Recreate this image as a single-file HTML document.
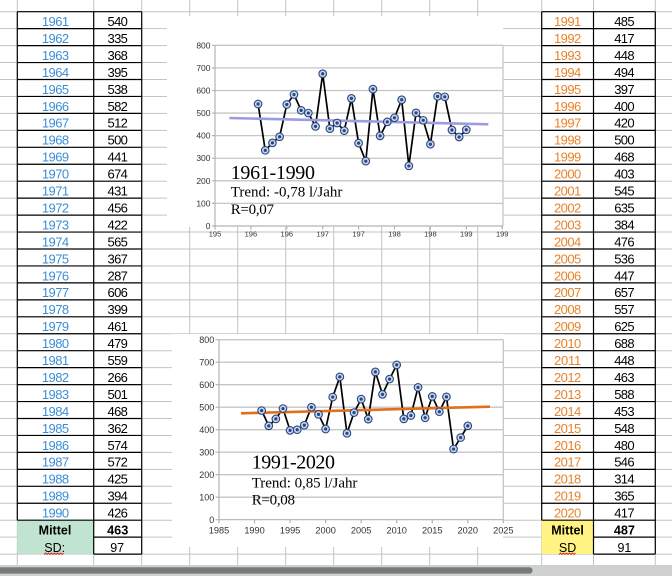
<!DOCTYPE html>
<html><head><meta charset="utf-8"><style>
html,body{margin:0;padding:0;background:#fff;width:672px;height:576px;overflow:hidden}
svg{display:block}
</style></head><body>
<svg width="672" height="576" viewBox="0 0 672 576" xmlns="http://www.w3.org/2000/svg">
<defs>
<g id="m"><circle r="3.8" fill="#c9d3ec" stroke="#27467f" stroke-width="1.1"/><circle r="1.6" fill="#27467f"/></g>
</defs>
<rect width="672" height="576" fill="#fff"/>
<!-- spreadsheet gray grid -->
<g stroke="#c3c3c3" stroke-width="1" fill="none">
<path d="M17.3 0V565M93.7 0V565M141.7 0V565M189.7 0V565M237.7 0V565M285.7 0V565M333.7 0V565M381.7 0V565M429.7 0V565M477.7 0V565M541.7 0V565M593.5 0V565M655.3 0V565"/>
<path d="M0 11.7H672M0 28.65H672M0 45.6H672M0 62.55H672M0 79.5H672M0 96.45H672M0 113.4H672M0 130.35H672M0 147.3H672M0 164.25H672M0 181.2H672M0 198.15H672M0 215.1H672M0 232.05H672M0 249H672M0 265.95H672M0 282.9H672M0 299.85H672M0 316.8H672M0 333.75H672M0 350.7H672M0 367.65H672M0 384.6H672M0 401.55H672M0 418.5H672M0 435.45H672M0 452.4H672M0 469.35H672M0 486.3H672M0 503.25H672M0 520.2H672M0 537.15H672M0 554.1H672"/>
</g>
<!-- colored cells -->
<rect x="17.3" y="520.2" width="76.4" height="33.9" fill="#c1e4d2"/>
<rect x="541.7" y="520.2" width="51.8" height="33.9" fill="#fff383"/>
<!-- black table borders -->
<g stroke="#000" stroke-width="1.2" fill="none">
<path d="M17.3 11.7H141.7M17.3 28.65H141.7M17.3 45.6H141.7M17.3 62.55H141.7M17.3 79.5H141.7M17.3 96.45H141.7M17.3 113.4H141.7M17.3 130.35H141.7M17.3 147.3H141.7M17.3 164.25H141.7M17.3 181.2H141.7M17.3 198.15H141.7M17.3 215.1H141.7M17.3 232.05H141.7M17.3 249H141.7M17.3 265.95H141.7M17.3 282.9H141.7M17.3 299.85H141.7M17.3 316.8H141.7M17.3 333.75H141.7M17.3 350.7H141.7M17.3 367.65H141.7M17.3 384.6H141.7M17.3 401.55H141.7M17.3 418.5H141.7M17.3 435.45H141.7M17.3 452.4H141.7M17.3 469.35H141.7M17.3 486.3H141.7M17.3 503.25H141.7M17.3 520.2H141.7M93.7 537.15H141.7M93.7 554.1H141.7M17.3 11.7V520.2M93.7 11.7V554.1M141.7 11.7V554.1"/>
<path d="M541.7 11.7H655.3M541.7 28.65H655.3M541.7 45.6H655.3M541.7 62.55H655.3M541.7 79.5H655.3M541.7 96.45H655.3M541.7 113.4H655.3M541.7 130.35H655.3M541.7 147.3H655.3M541.7 164.25H655.3M541.7 181.2H655.3M541.7 198.15H655.3M541.7 215.1H655.3M541.7 232.05H655.3M541.7 249H655.3M541.7 265.95H655.3M541.7 282.9H655.3M541.7 299.85H655.3M541.7 316.8H655.3M541.7 333.75H655.3M541.7 350.7H655.3M541.7 367.65H655.3M541.7 384.6H655.3M541.7 401.55H655.3M541.7 418.5H655.3M541.7 435.45H655.3M541.7 452.4H655.3M541.7 469.35H655.3M541.7 486.3H655.3M541.7 503.25H655.3M541.7 520.2H655.3M593.5 537.15H655.3M593.5 554.1H655.3M541.7 11.7V520.2M593.5 11.7V554.1M655.3 11.7V554.1"/>
</g>
<!-- left table text -->
<g font-family="Liberation Sans, sans-serif" font-size="13" text-anchor="middle">
<g fill="#3b8ed6">
<text x="55.5" y="26" textLength="27.3">1961</text><text x="55.5" y="42.95" textLength="27.3">1962</text><text x="55.5" y="59.9" textLength="27.3">1963</text><text x="55.5" y="76.85" textLength="27.3">1964</text><text x="55.5" y="93.8" textLength="27.3">1965</text><text x="55.5" y="110.75" textLength="27.3">1966</text><text x="55.5" y="127.7" textLength="27.3">1967</text><text x="55.5" y="144.65" textLength="27.3">1968</text><text x="55.5" y="161.6" textLength="27.3">1969</text><text x="55.5" y="178.55" textLength="27.3">1970</text><text x="55.5" y="195.5" textLength="27.3">1971</text><text x="55.5" y="212.45" textLength="27.3">1972</text><text x="55.5" y="229.4" textLength="27.3">1973</text><text x="55.5" y="246.35" textLength="27.3">1974</text><text x="55.5" y="263.3" textLength="27.3">1975</text><text x="55.5" y="280.25" textLength="27.3">1976</text><text x="55.5" y="297.2" textLength="27.3">1977</text><text x="55.5" y="314.15" textLength="27.3">1978</text><text x="55.5" y="331.1" textLength="27.3">1979</text><text x="55.5" y="348.05" textLength="27.3">1980</text><text x="55.5" y="365" textLength="27.3">1981</text><text x="55.5" y="381.95" textLength="27.3">1982</text><text x="55.5" y="398.9" textLength="27.3">1983</text><text x="55.5" y="415.85" textLength="27.3">1984</text><text x="55.5" y="432.8" textLength="27.3">1985</text><text x="55.5" y="449.75" textLength="27.3">1986</text><text x="55.5" y="466.7" textLength="27.3">1987</text><text x="55.5" y="483.65" textLength="27.3">1988</text><text x="55.5" y="500.6" textLength="27.3">1989</text><text x="55.5" y="517.55" textLength="27.3">1990</text>
</g>
<g fill="#000">
<text x="117.7" y="26" textLength="20.3">540</text><text x="117.7" y="42.95" textLength="20.3">335</text><text x="117.7" y="59.9" textLength="20.3">368</text><text x="117.7" y="76.85" textLength="20.3">395</text><text x="117.7" y="93.8" textLength="20.3">538</text><text x="117.7" y="110.75" textLength="20.3">582</text><text x="117.7" y="127.7" textLength="20.3">512</text><text x="117.7" y="144.65" textLength="20.3">500</text><text x="117.7" y="161.6" textLength="20.3">441</text><text x="117.7" y="178.55" textLength="20.3">674</text><text x="117.7" y="195.5" textLength="20.3">431</text><text x="117.7" y="212.45" textLength="20.3">456</text><text x="117.7" y="229.4" textLength="20.3">422</text><text x="117.7" y="246.35" textLength="20.3">565</text><text x="117.7" y="263.3" textLength="20.3">367</text><text x="117.7" y="280.25" textLength="20.3">287</text><text x="117.7" y="297.2" textLength="20.3">606</text><text x="117.7" y="314.15" textLength="20.3">399</text><text x="117.7" y="331.1" textLength="20.3">461</text><text x="117.7" y="348.05" textLength="20.3">479</text><text x="117.7" y="365" textLength="20.3">559</text><text x="117.7" y="381.95" textLength="20.3">266</text><text x="117.7" y="398.9" textLength="20.3">501</text><text x="117.7" y="415.85" textLength="20.3">468</text><text x="117.7" y="432.8" textLength="20.3">362</text><text x="117.7" y="449.75" textLength="20.3">574</text><text x="117.7" y="466.7" textLength="20.3">572</text><text x="117.7" y="483.65" textLength="20.3">425</text><text x="117.7" y="500.6" textLength="20.3">394</text><text x="117.7" y="517.55" textLength="20.3">426</text>
<text x="55" y="534.5" font-weight="bold" font-size="12.5">Mittel</text>
<text x="117.7" y="534.5" font-weight="bold" font-size="12.7">463</text>
<text x="54.7" y="552" font-size="12.5">SD:</text>
<text x="117.2" y="552" font-size="12.5">97</text>
</g>
</g>
<!-- right table text -->
<g font-family="Liberation Sans, sans-serif" font-size="13" text-anchor="middle">
<g fill="#e8832a">
<text x="567.6" y="26" textLength="27.3">1991</text><text x="567.6" y="42.95" textLength="27.3">1992</text><text x="567.6" y="59.9" textLength="27.3">1993</text><text x="567.6" y="76.85" textLength="27.3">1994</text><text x="567.6" y="93.8" textLength="27.3">1995</text><text x="567.6" y="110.75" textLength="27.3">1996</text><text x="567.6" y="127.7" textLength="27.3">1997</text><text x="567.6" y="144.65" textLength="27.3">1998</text><text x="567.6" y="161.6" textLength="27.3">1999</text><text x="567.6" y="178.55" textLength="27.3">2000</text><text x="567.6" y="195.5" textLength="27.3">2001</text><text x="567.6" y="212.45" textLength="27.3">2002</text><text x="567.6" y="229.4" textLength="27.3">2003</text><text x="567.6" y="246.35" textLength="27.3">2004</text><text x="567.6" y="263.3" textLength="27.3">2005</text><text x="567.6" y="280.25" textLength="27.3">2006</text><text x="567.6" y="297.2" textLength="27.3">2007</text><text x="567.6" y="314.15" textLength="27.3">2008</text><text x="567.6" y="331.1" textLength="27.3">2009</text><text x="567.6" y="348.05" textLength="27.3">2010</text><text x="567.6" y="365" textLength="27.3">2011</text><text x="567.6" y="381.95" textLength="27.3">2012</text><text x="567.6" y="398.9" textLength="27.3">2013</text><text x="567.6" y="415.85" textLength="27.3">2014</text><text x="567.6" y="432.8" textLength="27.3">2015</text><text x="567.6" y="449.75" textLength="27.3">2016</text><text x="567.6" y="466.7" textLength="27.3">2017</text><text x="567.6" y="483.65" textLength="27.3">2018</text><text x="567.6" y="500.6" textLength="27.3">2019</text><text x="567.6" y="517.55" textLength="27.3">2020</text>
</g>
<g fill="#000">
<text x="624.4" y="26" textLength="20.3">485</text><text x="624.4" y="42.95" textLength="20.3">417</text><text x="624.4" y="59.9" textLength="20.3">448</text><text x="624.4" y="76.85" textLength="20.3">494</text><text x="624.4" y="93.8" textLength="20.3">397</text><text x="624.4" y="110.75" textLength="20.3">400</text><text x="624.4" y="127.7" textLength="20.3">420</text><text x="624.4" y="144.65" textLength="20.3">500</text><text x="624.4" y="161.6" textLength="20.3">468</text><text x="624.4" y="178.55" textLength="20.3">403</text><text x="624.4" y="195.5" textLength="20.3">545</text><text x="624.4" y="212.45" textLength="20.3">635</text><text x="624.4" y="229.4" textLength="20.3">384</text><text x="624.4" y="246.35" textLength="20.3">476</text><text x="624.4" y="263.3" textLength="20.3">536</text><text x="624.4" y="280.25" textLength="20.3">447</text><text x="624.4" y="297.2" textLength="20.3">657</text><text x="624.4" y="314.15" textLength="20.3">557</text><text x="624.4" y="331.1" textLength="20.3">625</text><text x="624.4" y="348.05" textLength="20.3">688</text><text x="624.4" y="365" textLength="20.3">448</text><text x="624.4" y="381.95" textLength="20.3">463</text><text x="624.4" y="398.9" textLength="20.3">588</text><text x="624.4" y="415.85" textLength="20.3">453</text><text x="624.4" y="432.8" textLength="20.3">548</text><text x="624.4" y="449.75" textLength="20.3">480</text><text x="624.4" y="466.7" textLength="20.3">546</text><text x="624.4" y="483.65" textLength="20.3">314</text><text x="624.4" y="500.6" textLength="20.3">365</text><text x="624.4" y="517.55" textLength="20.3">417</text>
<text x="567.6" y="534.5" font-weight="bold" font-size="12.5">Mittel</text>
<text x="624.4" y="534.5" font-weight="bold" font-size="12.7">487</text>
<text x="567.6" y="552" font-size="12.5">SD</text>
<text x="624.4" y="552" font-size="12.5">91</text>
</g>
</g>
<!-- spellcheck squiggles -->
<path d="M44 554.5l1.5-1.5 1.5 1.5 1.5-1.5 1.5 1.5 1.5-1.5 1.5 1.5 1.5-1.5 1.5 1.5 1.5-1.5 1.5 1.5 1.5-1.5 1.5 1.5 1.5-1.5" stroke="#e02020" stroke-width="0.9" fill="none"/>
<path d="M559 554.5l1.5-1.5 1.5 1.5 1.5-1.5 1.5 1.5 1.5-1.5 1.5 1.5 1.5-1.5 1.5 1.5 1.5-1.5 1.5 1.5 1.5-1.5" stroke="#e02020" stroke-width="0.9" fill="none"/>

<!-- ============ CHART 1 ============ -->
<rect x="167" y="16" width="336" height="211" fill="#fff"/>
<g stroke="#c6c6c6" stroke-width="1.3" fill="none">
<path d="M215 45.3H503M215 67.89H503M215 90.48H503M215 113.07H503M215 135.65H503M215 158.24H503M215 180.83H503M215 203.41H503M503 45.3V226"/>
</g>
<g stroke="#b3b3b3" stroke-width="1.2" fill="none">
<path d="M215 45.3V226M215 226H503M212 45.3H215M212 67.89H215M212 90.48H215M212 113.07H215M212 135.65H215M212 158.24H215M212 180.83H215M212 203.41H215M212 226H215"/>
<path d="M215 226V229.5M250.9 226V229.5M286.8 226V229.5M322.7 226V229.5M358.6 226V229.5M394.5 226V229.5M430.4 226V229.5M466.3 226V229.5M502.2 226V229.5"/>
</g>
<g font-family="Liberation Sans, sans-serif" font-size="8.5" fill="#333" text-anchor="end">
<text x="210.5" y="48.3">800</text><text x="210.5" y="70.9">700</text><text x="210.5" y="93.5">600</text><text x="210.5" y="116.1">500</text><text x="210.5" y="138.6">400</text><text x="210.5" y="161.2">300</text><text x="210.5" y="183.8">200</text><text x="210.5" y="206.4">100</text><text x="210.5" y="229">0</text>
</g>
<g font-family="Liberation Sans, sans-serif" font-size="7.5" fill="#333" text-anchor="middle">
<text x="215" y="236.5">195</text><text x="250.9" y="236.5">196</text><text x="286.8" y="236.5">196</text><text x="322.7" y="236.5">197</text><text x="358.6" y="236.5">197</text><text x="394.5" y="236.5">198</text><text x="430.4" y="236.5">198</text><text x="466.3" y="236.5">199</text><text x="502.2" y="236.5">199</text>
</g>
<polyline fill="none" stroke="#000" stroke-width="1.7" stroke-linejoin="miter" points="258.08,104.03 265.26,150.33 272.44,142.88 279.62,136.78 286.8,104.48 293.98,94.54 301.16,110.35 308.34,113.06 315.52,126.39 322.7,73.76 329.88,128.65 337.06,123 344.24,130.68 351.42,98.38 358.6,143.11 365.78,161.18 372.96,89.12 380.14,135.88 387.32,121.87 394.5,117.81 401.68,99.74 408.86,165.92 416.04,112.84 423.22,120.29 430.4,144.23 437.58,96.35 444.76,96.8 451.94,130 459.12,137.01 466.3,129.78"/>
<line x1="229.3" y1="118" x2="488.3" y2="124.3" stroke="#9c9ce0" stroke-width="2.6"/>
<g>
<use href="#m" x="258.08" y="104.03"/><use href="#m" x="265.26" y="150.33"/><use href="#m" x="272.44" y="142.88"/><use href="#m" x="279.62" y="136.78"/><use href="#m" x="286.8" y="104.48"/><use href="#m" x="293.98" y="94.54"/><use href="#m" x="301.16" y="110.35"/><use href="#m" x="308.34" y="113.06"/><use href="#m" x="315.52" y="126.39"/><use href="#m" x="322.7" y="73.76"/><use href="#m" x="329.88" y="128.65"/><use href="#m" x="337.06" y="123"/><use href="#m" x="344.24" y="130.68"/><use href="#m" x="351.42" y="98.38"/><use href="#m" x="358.6" y="143.11"/><use href="#m" x="365.78" y="161.18"/><use href="#m" x="372.96" y="89.12"/><use href="#m" x="380.14" y="135.88"/><use href="#m" x="387.32" y="121.87"/><use href="#m" x="394.5" y="117.81"/><use href="#m" x="401.68" y="99.74"/><use href="#m" x="408.86" y="165.92"/><use href="#m" x="416.04" y="112.84"/><use href="#m" x="423.22" y="120.29"/><use href="#m" x="430.4" y="144.23"/><use href="#m" x="437.58" y="96.35"/><use href="#m" x="444.76" y="96.8"/><use href="#m" x="451.94" y="130"/><use href="#m" x="459.12" y="137.01"/><use href="#m" x="466.3" y="129.78"/>
</g>
<g font-family="Liberation Serif, serif" fill="#000">
<text x="230.7" y="179" font-size="20" textLength="84.3">1961-1990</text>
<text x="230.7" y="196.7" font-size="15" textLength="111.7">Trend: -0,78 l/Jahr</text>
<text x="230.7" y="214" font-size="15" textLength="43.3">R=0,07</text>
</g>

<!-- ============ CHART 2 ============ -->
<rect x="172" y="334" width="331" height="213" fill="#fff"/>
<g stroke="#c6c6c6" stroke-width="1.3" fill="none">
<path d="M219 339.7H503.3M219 362.2H503.3M219 384.7H503.3M219 407.2H503.3M219 429.7H503.3M219 452.2H503.3M219 474.7H503.3M219 497.2H503.3M503.3 339.7V519.7"/>
</g>
<g stroke="#b3b3b3" stroke-width="1.2" fill="none">
<path d="M219 339.7V519.7M219 519.7H503.3M215.5 339.7H219M215.5 362.2H219M215.5 384.7H219M215.5 407.2H219M215.5 429.7H219M215.5 452.2H219M215.5 474.7H219M215.5 497.2H219M215.5 519.7H219"/>
<path d="M219 519.7V523.2M254.54 519.7V523.2M290.08 519.7V523.2M325.62 519.7V523.2M361.16 519.7V523.2M396.7 519.7V523.2M432.24 519.7V523.2M467.78 519.7V523.2M503.32 519.7V523.2"/>
</g>
<g font-family="Liberation Sans, sans-serif" font-size="9" fill="#333" text-anchor="end">
<text x="214.3" y="342.9">800</text><text x="214.3" y="365.4">700</text><text x="214.3" y="387.9">600</text><text x="214.3" y="410.4">500</text><text x="214.3" y="432.9">400</text><text x="214.3" y="455.4">300</text><text x="214.3" y="477.9">200</text><text x="214.3" y="500.4">100</text><text x="214.3" y="522.9">0</text>
</g>
<g font-family="Liberation Sans, sans-serif" font-size="9.2" fill="#333" text-anchor="middle">
<text x="219" y="533.3">1985</text><text x="254.54" y="533.3">1990</text><text x="290.08" y="533.3">1995</text><text x="325.62" y="533.3">2000</text><text x="361.16" y="533.3">2005</text><text x="396.7" y="533.3">2010</text><text x="432.24" y="533.3">2015</text><text x="467.78" y="533.3">2020</text><text x="503.32" y="533.3">2025</text>
</g>
<polyline fill="none" stroke="#000" stroke-width="1.7" points="261.65,410.57 268.76,425.87 275.86,418.9 282.97,408.55 290.08,430.37 297.19,429.7 304.3,425.2 311.4,407.2 318.51,414.4 325.62,429.02 332.73,397.07 339.84,376.82 346.94,433.3 354.05,412.6 361.16,399.1 368.27,419.12 375.38,371.87 382.48,394.37 389.59,379.07 396.7,364.9 403.81,418.9 410.92,415.52 418.02,387.4 425.13,417.77 432.24,396.4 439.35,411.7 446.46,396.85 453.56,449.05 460.67,437.57 467.78,425.87"/>
<line x1="241" y1="413.3" x2="490" y2="406.7" stroke="#e0701c" stroke-width="2.6"/>
<g>
<use href="#m" x="261.65" y="410.57"/><use href="#m" x="268.76" y="425.87"/><use href="#m" x="275.86" y="418.9"/><use href="#m" x="282.97" y="408.55"/><use href="#m" x="290.08" y="430.37"/><use href="#m" x="297.19" y="429.7"/><use href="#m" x="304.3" y="425.2"/><use href="#m" x="311.4" y="407.2"/><use href="#m" x="318.51" y="414.4"/><use href="#m" x="325.62" y="429.02"/><use href="#m" x="332.73" y="397.07"/><use href="#m" x="339.84" y="376.82"/><use href="#m" x="346.94" y="433.3"/><use href="#m" x="354.05" y="412.6"/><use href="#m" x="361.16" y="399.1"/><use href="#m" x="368.27" y="419.12"/><use href="#m" x="375.38" y="371.87"/><use href="#m" x="382.48" y="394.37"/><use href="#m" x="389.59" y="379.07"/><use href="#m" x="396.7" y="364.9"/><use href="#m" x="403.81" y="418.9"/><use href="#m" x="410.92" y="415.52"/><use href="#m" x="418.02" y="387.4"/><use href="#m" x="425.13" y="417.77"/><use href="#m" x="432.24" y="396.4"/><use href="#m" x="439.35" y="411.7"/><use href="#m" x="446.46" y="396.85"/><use href="#m" x="453.56" y="449.05"/><use href="#m" x="460.67" y="437.57"/><use href="#m" x="467.78" y="425.87"/>
</g>
<g font-family="Liberation Serif, serif" fill="#000">
<text x="251.7" y="468.3" font-size="20" textLength="83.3">1991-2020</text>
<text x="251.7" y="487.3" font-size="15" textLength="105.7">Trend: 0,85 l/Jahr</text>
<text x="251.7" y="504.3" font-size="15" textLength="43.3">R=0,08</text>
</g>

<!-- scrollbar -->
<rect x="0" y="565" width="672" height="11" fill="#cfd0d0"/>
<rect x="-6" y="567.3" width="538.5" height="6.3" rx="3" fill="#767a7a"/>
</svg>
</body></html>
